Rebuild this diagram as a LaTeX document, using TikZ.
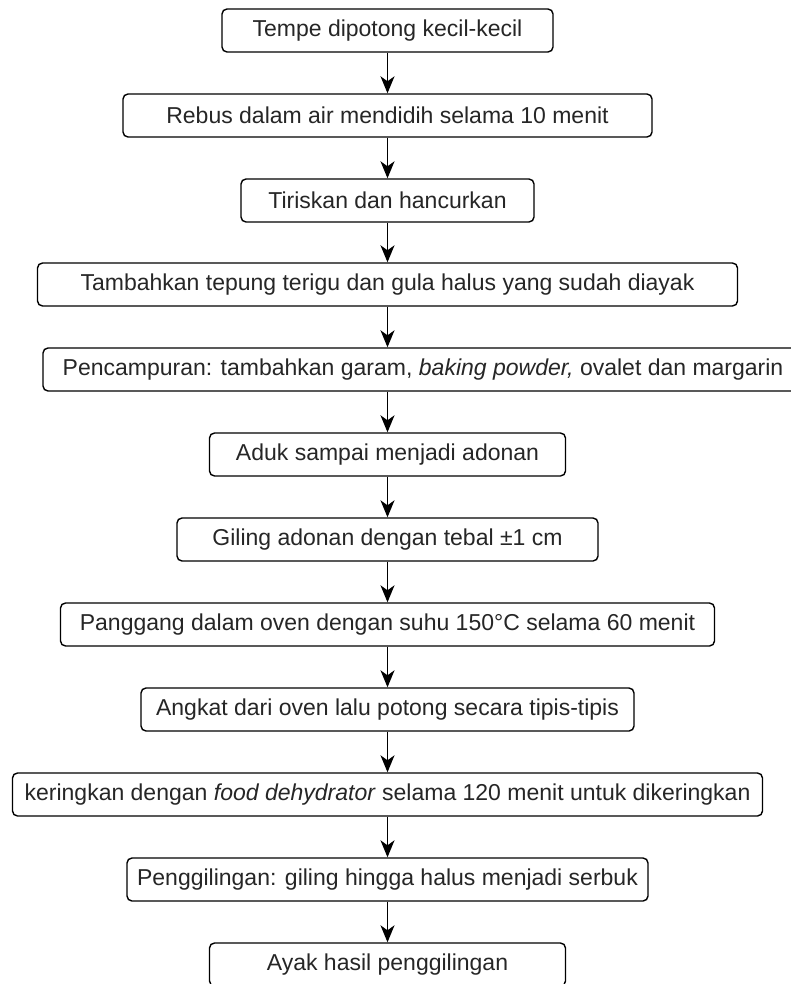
\documentclass[tikz,border=0pt]{standalone}
\usepackage{fontspec}
\setmainfont{Liberation Sans}
\usetikzlibrary{arrows.meta}
\tikzset{
  stepbox/.style={draw=black, line width=1.4pt, rounded corners=5pt, minimum height=43pt, inner sep=0pt, font=\fontsize{23}{27}\selectfont, text=black!85},
  arr/.style={draw=black, line width=1.5pt, -{Stealth[length=17pt,width=14pt,inset=5pt]}}
}
\begin{document}
\begin{tikzpicture}[x=1pt,y=-1pt]
\useasboundingbox (0,0) rectangle (791,984);
\fill[white] (0,0) rectangle (791,984);
\node[stepbox, minimum width=331pt] (b1) at (387.5,30.5) {Tempe dipotong kecil-kecil};
\node[stepbox, minimum width=529pt] (b2) at (387.5,115.5) {Rebus dalam air mendidih selama 10 menit};
\node[stepbox, minimum width=293pt] (b3) at (387.5,200.5) {Tiriskan dan hancurkan};
\node[stepbox, minimum width=700pt] (b4) at (387.5,284.5) {Tambahkan tepung terigu dan gula halus yang sudah diayak};
\node[stepbox, minimum width=760pt] (b5) at (423,369.5) {Pencampuran: tambahkan garam, \textit{baking powder,} ovalet dan margarin};
\node[stepbox, minimum width=356pt] (b6) at (387.5,454.5) {Aduk sampai menjadi adonan};
\node[stepbox, minimum width=421pt] (b7) at (387.5,539.5) {Giling adonan dengan tebal ±1 cm};
\node[stepbox, minimum width=654pt] (b8) at (387.5,624.5) {Panggang dalam oven dengan suhu 150°C selama 60 menit};
\node[stepbox, minimum width=493pt] (b9) at (387.5,709.5) {Angkat dari oven lalu potong secara tipis-tipis};
\node[stepbox, minimum width=750pt] (b10) at (387.5,794.5) {keringkan dengan \textit{food dehydrator} selama 120 menit untuk dikeringkan};
\node[stepbox, minimum width=521pt] (b11) at (387.5,879.5) {Penggilingan: giling hingga halus menjadi serbuk};
\node[stepbox, minimum width=356pt] (b12) at (387.5,964.5) {Ayak hasil penggilingan};
\draw[arr] (b1) -- (b2);
\draw[arr] (b2) -- (b3);
\draw[arr] (b3) -- (b4);
\draw[arr] (b4.south) -- (b5.north -| b4.south);
\draw[arr] (b5.south -| b6.north) -- (b6.north);
\draw[arr] (b6) -- (b7);
\draw[arr] (b7) -- (b8);
\draw[arr] (b8) -- (b9);
\draw[arr] (b9) -- (b10);
\draw[arr] (b10) -- (b11);
\draw[arr] (b11) -- (b12);
\end{tikzpicture}
\end{document}
